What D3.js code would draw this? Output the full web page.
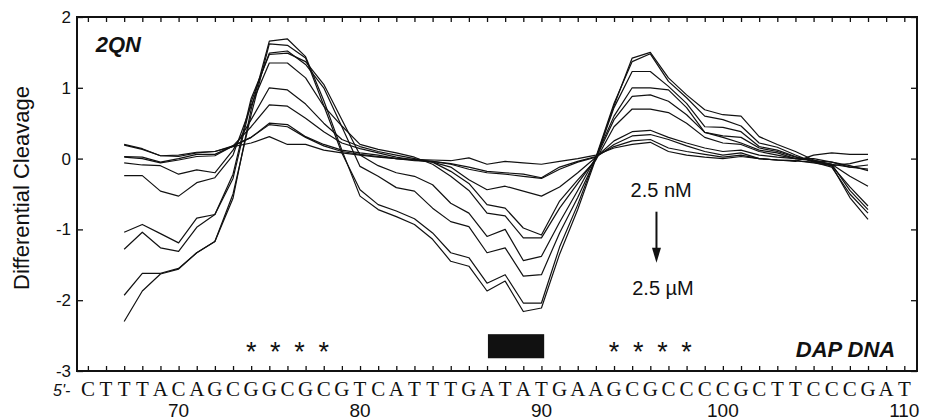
<!DOCTYPE html>
<html>
<head>
<meta charset="utf-8">
<script src="https://cdn.jsdelivr.net/npm/d3@7"></script>
<style>
  body { margin: 0; background: #fff; }
  text { font-family: "Liberation Sans", Arial, sans-serif; fill: #111; }
  .seq { font-family: "Liberation Serif", "Times New Roman", serif; }
</style>
</head>
<body>
<svg id="chart" width="928" height="420"></svg>
<script>
const svg = d3.select("#chart");
const margin = { top: 17, right: 11, bottom: 49, left: 77 };
const width = 928 - margin.left - margin.right;
const height = 420 - margin.top - margin.bottom;

// positions along the DAP DNA sequence
const positions = d3.range(67, 109);
const sequenceStart = 65;
const sequence = "CTTTACAGCGGCGCGTCATTTGATATGAAGCGCCCCGCTTCCCGAT";
const xLabels = [70, 80, 90, 100, 110];
const yTicks = [-3, -2, -1, 0, 1, 2];
const stars = [74, 75.33, 76.67, 78, 94, 95.33, 96.67, 98];
const site = { from: 87.05, to: 90.15, top: -2.48, bottom: -2.82 };

// differential cleavage, one series per concentration (2.5 uM ... 2.5 nM)
const c10 = [-2.30,-1.87,-1.63,-1.56,-1.33,-1.17,-0.56,0.70,1.66,1.69,1.44,0.82,0.12,-0.53,-0.72,-0.82,-0.93,-1.14,-1.45,-1.52,-1.87,-1.73,-2.16,-2.11,-1.35,-0.72,0.00,0.75,1.42,1.50,1.14,0.90,0.69,0.62,0.60,0.31,0.20,0.10,-0.02,-0.10,-0.55,-0.86];
const c9 = [-1.93,-1.62,-1.62,-1.55,-1.33,-1.17,-0.50,0.62,1.62,1.60,1.42,0.75,0.08,-0.44,-0.65,-0.74,-0.85,-1.05,-1.33,-1.40,-1.76,-1.64,-2.04,-2.04,-1.25,-0.65,0.02,0.78,1.37,1.48,1.09,0.86,0.60,0.55,0.46,0.22,0.16,0.05,-0.05,-0.12,-0.50,-0.77];
const c8 = [-1.28,-1.04,-1.26,-1.31,-0.97,-0.79,-0.28,0.80,1.49,1.52,1.33,1.00,0.45,-0.11,-0.25,-0.41,-0.46,-0.70,-0.89,-0.96,-1.33,-1.26,-1.66,-1.64,-1.05,-0.55,0.00,0.72,1.23,1.23,1.02,0.78,0.45,0.44,0.38,0.17,0.12,0.03,-0.04,-0.08,-0.45,-0.72];
const c7 = [-1.04,-0.93,-1.06,-1.19,-0.84,-0.79,-0.22,0.85,1.47,1.49,1.37,1.05,0.55,0.05,-0.10,-0.20,-0.25,-0.37,-0.63,-0.77,-1.10,-1.00,-1.44,-1.38,-0.90,-0.45,0.02,0.60,1.00,1.00,0.97,0.72,0.37,0.32,0.30,0.15,0.10,0.02,-0.03,-0.10,-0.40,-0.67];
const c6 = [-0.24,-0.24,-0.46,-0.53,-0.34,-0.27,0.05,0.75,1.35,1.35,1.14,0.74,0.46,0.20,0.13,0.08,0.02,-0.08,-0.25,-0.45,-0.77,-0.81,-1.12,-1.12,-0.70,-0.35,0.00,0.55,0.88,0.90,0.81,0.62,0.37,0.30,0.22,0.12,0.08,0.00,-0.02,-0.08,-0.25,-0.39];
const c5 = [-0.06,-0.09,-0.10,-0.22,-0.16,-0.20,0.12,0.55,1.00,0.97,0.77,0.50,0.27,0.17,0.10,0.05,0.00,-0.05,-0.18,-0.35,-0.65,-0.70,-0.98,-1.08,-0.60,-0.30,-0.02,0.45,0.70,0.70,0.65,0.50,0.30,0.22,0.20,0.10,0.05,0.00,-0.03,-0.05,-0.10,-0.17];
const c4 = [0.02,0.00,-0.06,-0.02,0.03,0.04,0.18,0.45,0.76,0.74,0.57,0.38,0.22,0.14,0.08,0.02,-0.02,-0.05,-0.12,-0.30,-0.44,-0.39,-0.46,-0.53,-0.40,-0.20,0.02,0.25,0.38,0.40,0.30,0.22,0.15,0.10,0.12,0.05,0.02,0.00,0.00,-0.05,-0.12,-0.15];
const c3 = [0.03,0.02,-0.05,0.00,0.06,0.06,0.18,0.30,0.50,0.48,0.31,0.20,0.12,0.08,0.05,0.00,-0.03,-0.04,-0.08,-0.15,-0.20,-0.22,-0.25,-0.28,-0.15,-0.05,0.02,0.20,0.32,0.34,0.27,0.18,0.10,0.05,0.08,0.00,-0.02,-0.03,-0.05,-0.08,-0.12,-0.09];
const c2 = [0.20,0.14,0.04,0.05,0.09,0.10,0.18,0.30,0.48,0.45,0.30,0.18,0.10,0.06,0.03,0.00,-0.02,-0.04,-0.07,-0.12,-0.18,-0.20,-0.22,-0.27,-0.12,-0.04,0.03,0.17,0.25,0.27,0.15,0.10,0.06,0.02,0.05,0.00,-0.02,-0.03,-0.06,-0.10,-0.07,-0.01];
const c1 = [0.19,0.13,0.04,0.03,0.08,0.10,0.17,0.22,0.31,0.20,0.20,0.12,0.08,0.05,0.02,0.00,-0.01,-0.02,-0.03,0.01,-0.08,-0.04,-0.06,-0.08,-0.04,0.00,0.05,0.15,0.20,0.23,0.10,0.05,0.02,0.00,0.03,0.00,-0.02,-0.04,0.05,0.08,0.06,0.06];
const series = [c1, c2, c3, c4, c5, c6, c7, c8, c9, c10];

const x = d3.scaleLinear().domain([64.4, 110.7]).range([0, width]);
const y = d3.scaleLinear().domain([-3, 2]).range([height, 0]);

const plot = svg.append("g")
  .attr("transform", "translate(" + margin.left + "," + margin.top + ")");

// data lines
const line = d3.line()
  .x((d, i) => x(positions[i]))
  .y(d => y(d));

plot.selectAll("path.series").data(series)
  .join("path")
  .attr("class", "series")
  .attr("d", line)
  .attr("fill", "none")
  .attr("stroke", "#111")
  .attr("stroke-width", 1.2)
  .attr("stroke-linejoin", "round");

// tick-only axes, ticks pointing inward
const xTickValues = d3.range(65, 111);
plot.append("g")
  .attr("transform", "translate(0," + height + ")")
  .call(d3.axisBottom(x).tickValues(xTickValues).tickSize(-5).tickFormat(""));
plot.append("g")
  .call(d3.axisTop(x).tickValues(xTickValues).tickSize(-5).tickFormat(""));
plot.append("g")
  .call(d3.axisLeft(y).tickValues(yTicks).tickSize(-6).tickPadding(6).tickFormat(d => String(d)))
  .selectAll("text").style("font-size", "17px").attr("fill", "#111");
plot.append("g")
  .attr("transform", "translate(" + width + ",0)")
  .call(d3.axisRight(y).tickValues(yTicks).tickSize(-6).tickFormat(""));
plot.selectAll(".domain").remove();
plot.selectAll(".tick line").attr("stroke", "#111").attr("stroke-width", 1.3);

plot.append("rect")
  .attr("width", width)
  .attr("height", height)
  .attr("fill", "none")
  .attr("stroke", "#111")
  .attr("stroke-width", 2);

// sequence under the axis
const letters = sequence.split("").map((c, i) => ({ c: c, pos: sequenceStart + i }));
plot.selectAll("text.seq").data(letters)
  .join("text")
  .attr("class", "seq")
  .attr("x", d => x(d.pos))
  .attr("y", height + 25)
  .attr("text-anchor", "middle")
  .style("font-size", "21px")
  .text(d => d.c);

plot.append("text")
  .attr("x", -24)
  .attr("y", height + 25)
  .style("font-size", "16px")
  .style("font-style", "italic")
  .text("5'-");

plot.selectAll("text.xlab").data(xLabels)
  .join("text")
  .attr("class", "xlab")
  .attr("x", d => x(d))
  .attr("y", height + 46)
  .attr("text-anchor", "middle")
  .style("font-size", "19px")
  .text(d => d);

// y axis title
svg.append("text")
  .attr("transform", "translate(29,188) rotate(-90)")
  .attr("text-anchor", "middle")
  .style("font-size", "22px")
  .text("Differential Cleavage");

// GC stars and the binding site box
plot.selectAll("text.star").data(stars)
  .join("text")
  .attr("class", "star")
  .attr("x", d => x(d))
  .attr("y", y(-2.86))
  .attr("text-anchor", "middle")
  .style("font-size", "27px")
  .text("*");

plot.append("rect")
  .attr("x", x(site.from))
  .attr("y", y(site.top))
  .attr("width", x(site.to) - x(site.from))
  .attr("height", y(site.bottom) - y(site.top))
  .attr("fill", "#111");

// labels
plot.append("text")
  .attr("x", x(65.43))
  .attr("y", y(1.5))
  .style("font-size", "22px")
  .style("font-weight", "bold")
  .style("font-style", "italic")
  .text("2QN");

plot.append("text")
  .attr("x", x(109.5))
  .attr("y", y(-2.8))
  .attr("text-anchor", "end")
  .style("font-size", "22px")
  .style("font-weight", "bold")
  .style("font-style", "italic")
  .text("DAP DNA");

plot.append("text")
  .attr("x", x(96.6))
  .attr("y", y(-0.54))
  .attr("text-anchor", "middle")
  .style("font-size", "20px")
  .text("2.5 nM");

plot.append("text")
  .attr("x", x(96.7))
  .attr("y", y(-1.92))
  .attr("text-anchor", "middle")
  .style("font-size", "20px")
  .text("2.5 \u00b5M");

// concentration arrow
const arrowX = x(96.34);
plot.append("line")
  .attr("x1", arrowX).attr("x2", arrowX)
  .attr("y1", y(-0.75)).attr("y2", y(-1.28))
  .attr("stroke", "#111")
  .attr("stroke-width", 2);
plot.append("path")
  .attr("d", "M" + (arrowX - 4.5) + "," + y(-1.26) + "L" + (arrowX + 4.5) + "," + y(-1.26) + "L" + arrowX + "," + y(-1.47) + "Z")
  .attr("fill", "#111");
</script>
</body>
</html>
